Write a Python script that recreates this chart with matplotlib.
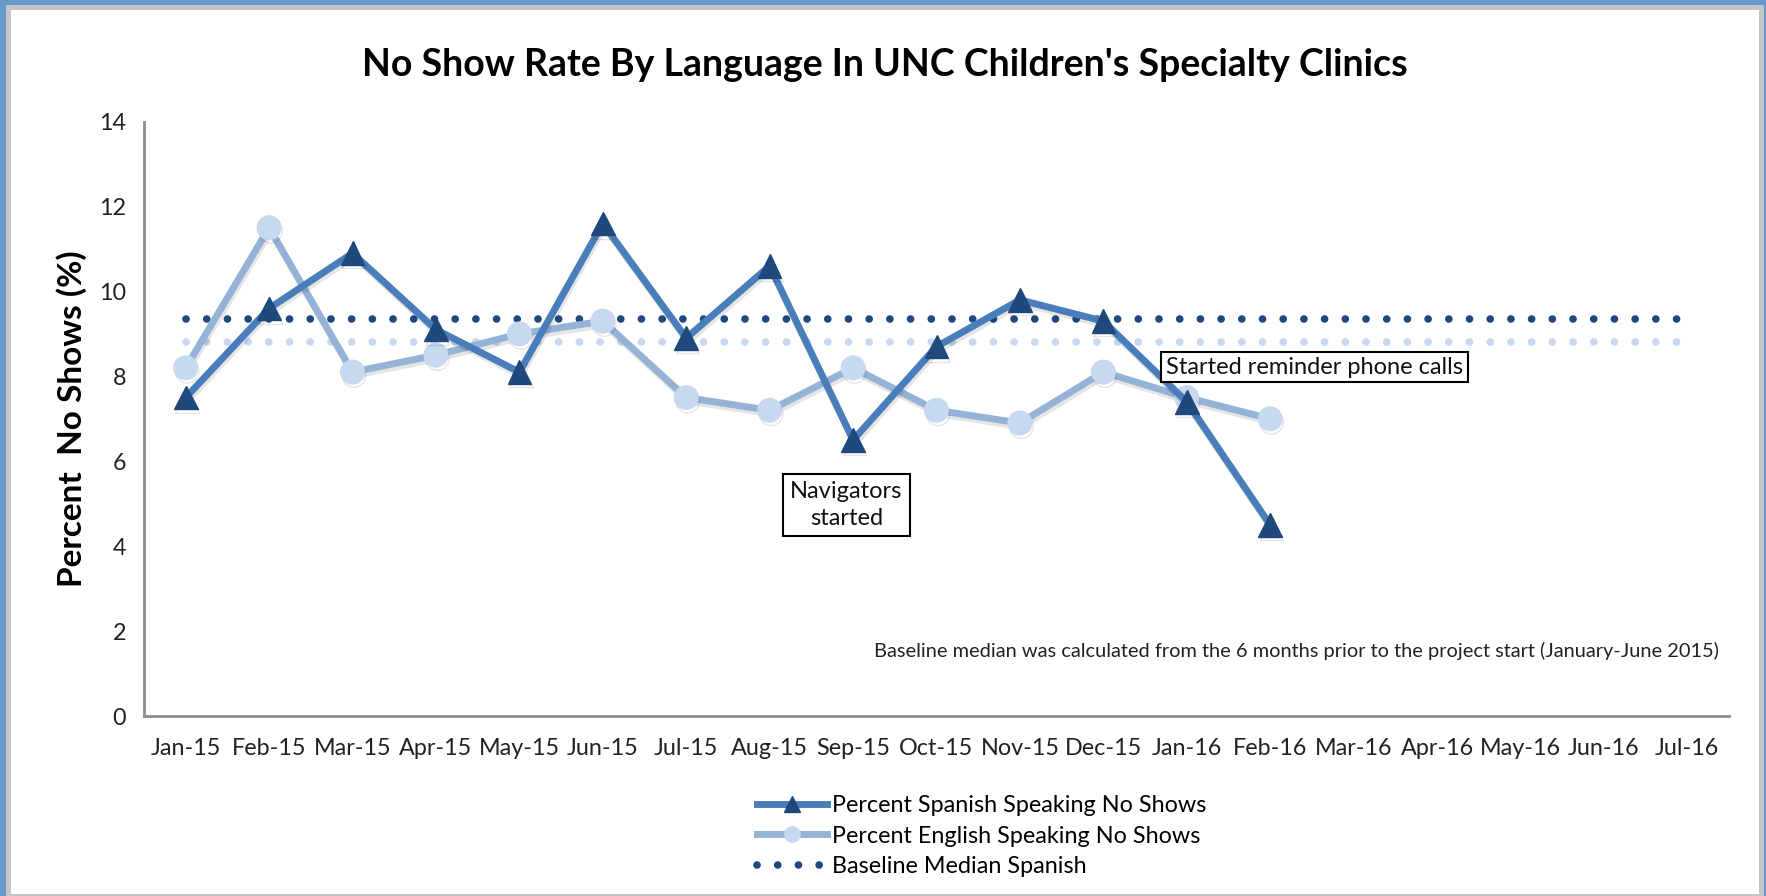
import matplotlib
matplotlib.use("Agg")
import matplotlib.pyplot as plt
from matplotlib.patches import Rectangle
from matplotlib.lines import Line2D
import matplotlib.patheffects as pe
import numpy as np

months = ["Jan-15", "Feb-15", "Mar-15", "Apr-15", "May-15", "Jun-15", "Jul-15",
          "Aug-15", "Sep-15", "Oct-15", "Nov-15", "Dec-15", "Jan-16", "Feb-16",
          "Mar-16", "Apr-16", "May-16", "Jun-16", "Jul-16"]
spanish = [7.5, 9.6, 10.9, 9.1, 8.1, 11.6, 8.9, 10.6, 6.5, 8.7, 9.8, 9.3, 7.4, 4.5]
english = [8.2, 11.5, 8.1, 8.5, 9.0, 9.3, 7.5, 7.2, 8.2, 7.2, 6.9, 8.1, 7.5, 7.0]
baseline_spanish = 9.35
baseline_english = 8.8

title = "No Show Rate By Language In UNC Children's Specialty Clinics"
ylabel = "Percent  No Shows (%)"
labels = ["Percent Spanish Speaking No Shows", "Percent English Speaking No Shows",
          "Baseline Median Spanish"]
note = "Baseline median was calculated from the 6 months prior to the project start (January-June 2015)"

plt.rcParams['font.family'] = ['Lato', 'DejaVu Sans']

W, H = 1766, 896
fig = plt.figure(figsize=(W / 100, H / 100), dpi=100)
fig.patch.set_facecolor('#6699CC')
fig.add_artist(Rectangle((6 / W, 0), 1758 / W, 891 / H, transform=fig.transFigure,
                         facecolor='#C4C4C4', edgecolor='none', zorder=-2))
fig.add_artist(Rectangle((11 / W, 2 / H), 1748 / W, 884 / H, transform=fig.transFigure,
                         facecolor='white', edgecolor='none', zorder=-1))

left, right = 144 / W, 1729 / W
bottom, top = 1 - 716 / H, 1 - 121.6 / H
ax = fig.add_axes([left, bottom, right - left, top - bottom])
ax.set_facecolor('none')

x_all = np.arange(len(months))
x_sp = np.arange(len(spanish))
x_en = np.arange(len(english))

dark = '#1F497D'
sp_line = '#4A7EBB'
en_line = '#95B3D7'
en_mark = '#C6D9F1'

shadow = [pe.SimpleLineShadow(offset=(1, -2.5), alpha=0.10, shadow_color='black'), pe.Normal()]

ax.plot(x_all, [baseline_english] * len(months), color=en_mark, lw=5.5,
        linestyle=(0, (0.01, 2.7)), dash_capstyle='round', zorder=2)
ax.plot(x_all, [baseline_spanish] * len(months), color=dark, lw=5.5,
        linestyle=(0, (0.01, 2.7)), dash_capstyle='round', zorder=2)

ax.plot(x_en, english, color=en_line, lw=5, marker='o', markersize=17,
        markerfacecolor=en_mark, markeredgecolor=en_mark, zorder=3,
        path_effects=shadow)
ax.plot(x_sp, spanish, color=sp_line, lw=5, marker='^', markersize=17,
        markerfacecolor=dark, markeredgecolor=dark, zorder=4,
        path_effects=shadow)

ax.set_xlim(-0.5, len(months) - 0.5)
ax.set_ylim(0, 14)
ax.set_yticks(np.arange(0, 15, 2))
ax.set_xticks(x_all)
ax.set_xticklabels(months)
ax.tick_params(axis='both', length=0, labelsize=16.8, colors='#222222')
ax.tick_params(axis='y', pad=13)
ax.tick_params(axis='x', pad=16)
for s in ['top', 'right']:
    ax.spines[s].set_visible(False)
for s in ['left', 'bottom']:
    ax.spines[s].set_color('#8C8C8C')
    ax.spines[s].set_linewidth(2)

ax.set_ylabel(ylabel, fontsize=24, fontweight='bold', color='black')
ax.yaxis.set_label_coords(-0.036, 0.5)

fig.text(885 / W, 1 - 65 / H, title, fontsize=27, fontweight='bold',
         ha='center', va='center', color='black')

box = dict(boxstyle='square,pad=0.3', facecolor='white', edgecolor='black', linewidth=1.5)
ax.text(7.92, 4.97, "Navigators\nstarted", ha='center', va='center', fontsize=17,
        linespacing=1.3, bbox=box, zorder=6, color='#111111')
ax.text(13.53, 8.22, "Started reminder phone calls", ha='center', va='center',
        fontsize=17, bbox=dict(boxstyle='square,pad=0.2', facecolor='white',
                               edgecolor='black', linewidth=1.5),
        zorder=6, color='#111111')
ax.text(18.38, 1.53, note, ha='right', va='center', fontsize=14.4, color='#222222')

handles = [
    Line2D([], [], color=sp_line, lw=5, marker='^', markersize=11,
           markerfacecolor=dark, markeredgecolor=dark),
    Line2D([], [], color=en_line, lw=5, marker='o', markersize=11,
           markerfacecolor=en_mark, markeredgecolor=en_mark),
    Line2D([], [], color=dark, lw=5.5, linestyle=(0, (0.01, 2.7)), dash_capstyle='round'),
]
fig.legend(handles, labels, loc='center left', bbox_to_anchor=(757 / W, 1 - 836 / H),
           frameon=False, fontsize=16.8, handlelength=3.0, handletextpad=0.2,
           labelspacing=0.42, borderpad=0, borderaxespad=0)

fig.savefig('out.png', dpi=100, facecolor=fig.get_facecolor())
